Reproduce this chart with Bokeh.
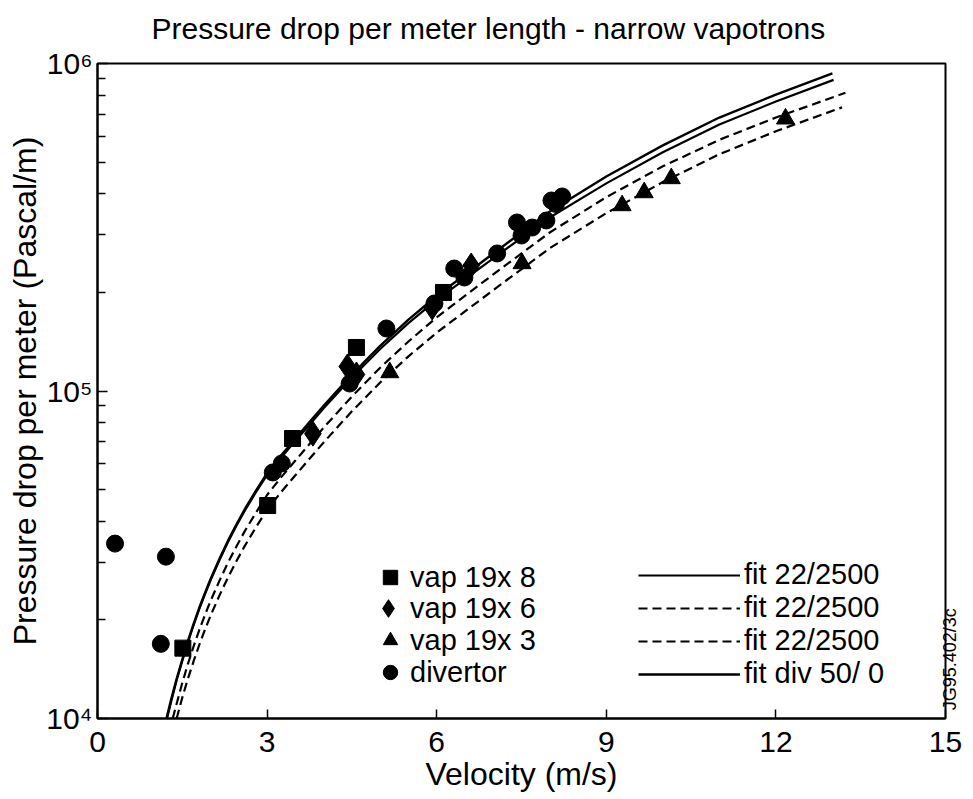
import math
from bokeh.plotting import figure
from bokeh.models import FixedTicker, Legend, LegendItem, LogAxis, Title
from bokeh.embed import file_html
from bokeh.resources import INLINE

# ---------------- data ----------------
sq_v = [1.51, 3.01, 3.45, 4.58, 6.12]
sq_p = [16400, 44700, 71600, 135800, 199900]

dia_v = [3.81, 4.42, 4.58, 5.92, 6.61]
dia_p = [74100, 118800, 112300, 179900, 241600]

tri_v = [5.17, 7.51, 9.28, 9.67, 10.15, 12.17]
tri_p = [113900, 245100, 368500, 403700, 445600, 677900]

div_v = [0.31, 1.21, 1.12, 3.10, 3.26, 4.46, 5.11, 5.96, 6.31, 6.49, 7.07,
         7.42, 7.50, 7.69, 7.94, 8.03, 8.22, 8.11]
div_p = [34200, 31200, 16900, 56400, 60100, 105400, 155200, 185000, 236600,
         222100, 263000, 327000, 298400, 315600, 331600, 381700, 392600, 372400]

# fit curves
fit_div_v = [1.22, 1.30, 1.40, 1.50, 1.60, 1.70, 1.80, 1.90, 2.00, 2.15, 2.30, 2.45,
             2.60, 2.80, 3.00, 3.25, 3.50, 3.75, 4.00, 4.50, 5.00, 5.50, 6.00, 7.00,
             8.00, 9.00, 10.0, 11.0, 12.0, 13.0]
fit_div_p = [10000, 11380, 13210, 15140, 17260, 19450, 21780, 24150, 26670, 30550,
             34670, 38900, 43400, 49550, 56170, 63680, 71530, 80350, 90160, 112200,
             137400, 165200, 195000, 263000, 353200, 451900, 562300, 683900,
             803500, 933300]

fit8_v = [1.23, 1.30, 1.40, 1.50, 1.60, 1.70, 1.80, 1.90, 2.00, 2.15, 2.30, 2.45,
          2.60, 2.80, 3.00, 3.25, 3.50, 3.75, 4.00, 4.50, 5.00, 5.50, 6.00, 7.00,
          8.00, 9.00, 10.0, 11.0, 12.0, 13.02]
fit8_p = [10000, 11220, 13090, 15000, 17100, 19280, 21580, 23930, 26420, 30270,
          34360, 38550, 42950, 48980, 55400, 62660, 70410, 78890, 88510, 109900,
          134300, 161100, 189700, 254100, 338800, 430500, 535800, 651600,
          765600, 891300]

fit6_v = [1.33, 1.40, 1.50, 1.60, 1.70, 1.80, 1.90, 2.00, 2.15, 2.30, 2.45, 2.60,
          2.80, 3.00, 3.25, 3.50, 3.75, 4.00, 4.50, 5.00, 5.50, 6.00, 7.00, 8.00,
          9.00, 10.0, 11.0, 12.0, 13.23]
fit6_p = [10000, 11090, 12850, 14690, 16600, 18620, 20700, 22860, 26180, 29720,
          33340, 37200, 42460, 48140, 54580, 61310, 68870, 77270, 96160, 117800,
          141600, 167900, 227000, 304800, 390800, 485300, 584800, 683900, 813800]

fit3_v = [1.40, 1.50, 1.60, 1.70, 1.80, 1.90, 2.00, 2.15, 2.30, 2.45, 2.60, 2.80,
          3.00, 3.25, 3.50, 3.75, 4.00, 4.50, 5.00, 5.50, 6.00, 7.00, 8.00, 9.00,
          10.0, 11.0, 12.0, 13.17]
fit3_p = [10000, 11590, 13240, 14960, 16790, 18660, 20610, 23600, 26790, 30060,
          33540, 38280, 43400, 49200, 55270, 62090, 69660, 86700, 106200, 127600,
          150700, 203200, 272900, 349100, 434500, 528400, 620900, 734500]

x_ticks = [0, 3, 6, 9, 12, 15]
y_ticks = [10000, 100000, 1000000]
y_tick_labels = {10000: "10\u2074", 100000: "10\u2075", 1000000: "10\u2076"}
y_minor = [k * 10000 for k in range(2, 10)] + [k * 100000 for k in range(2, 10)]
code_pos = 10600
code_text = "JG95.402/3c"

marker_labels = ["vap 19x 8", "vap 19x 6", "vap 19x 3", "divertor"]
fit_labels = ["fit 22/2500", "fit 22/2500", "fit 22/2500", "fit div 50/ 0"]

FONT = "Liberation Sans"

p = figure(width=973, height=799, x_range=(0, 15), y_range=(1e4, 1e6),
           y_axis_type="log", output_backend="svg", toolbar_location=None,
           min_border_left=97, min_border_right=26, min_border_top=63,
           min_border_bottom=81)

p.background_fill_color = "white"
p.border_fill_color = "white"
p.outline_line_color = "black"
p.outline_line_width = 2
p.xgrid.visible = False
p.ygrid.visible = False

# title (a thin spacer title sits between the frame and the real title)
p.title.text = ""
p.add_layout(Title(text=" ", text_font_size="2px", standoff=12), "above")
p.add_layout(Title(text="Pressure drop per meter length - narrow vapotrons",
                   text_font=FONT, text_font_size="30px", text_font_style="normal",
                   text_color="black", align="left", offset=54, standoff=6), "above")

# axes
for ax in (p.xaxis[0], p.yaxis[0]):
    ax.axis_line_width = 2
    ax.axis_line_color = "black"
    ax.major_tick_line_color = "black"
    ax.major_tick_line_width = 1.5
    ax.minor_tick_line_color = "black"
    ax.minor_tick_line_width = 1.5
    ax.major_tick_out = 0
    ax.minor_tick_out = 0
    ax.major_label_text_font = FONT
    ax.major_label_text_font_size = "30px"
    ax.major_label_text_color = "black"
    ax.axis_label_text_font = FONT
    ax.axis_label_text_font_size = "32px"
    ax.axis_label_text_font_style = "normal"
    ax.axis_label_text_color = "black"

p.xaxis.ticker = FixedTicker(ticks=x_ticks)
p.xaxis.major_tick_in = 9
p.xaxis.minor_tick_in = 0
p.xaxis.major_label_standoff = 13
p.xaxis.axis_label_standoff = 1
p.xaxis.axis_label = "Velocity (m/s)"

p.yaxis.ticker = FixedTicker(ticks=y_ticks, minor_ticks=y_minor)
p.yaxis.major_tick_in = 10
p.yaxis.minor_tick_in = 8
p.yaxis.axis_label_standoff = 0
p.yaxis.major_label_overrides = y_tick_labels
p.yaxis.axis_label = "Pressure drop per meter (Pascal/m)"

# drawing code on the right edge
code_axis = LogAxis(ticker=FixedTicker(ticks=[code_pos]),
                    major_label_overrides={code_pos: code_text},
                    major_label_orientation=math.pi / 2,
                    major_label_standoff=5,
                    major_tick_in=0, major_tick_out=0,
                    minor_tick_in=0, minor_tick_out=0,
                    major_label_text_font=FONT, major_label_text_font_size="18px",
                    major_label_text_color="black",
                    axis_line_color=None, major_tick_line_color=None,
                    minor_tick_line_color=None)
p.add_layout(code_axis, "right")

# fit curves
r_fit8 = p.line(fit8_v, fit8_p, line_color="black", line_width=2.2)
r_fit6 = p.line(fit6_v, fit6_p, line_color="black", line_width=2.2, line_dash="9 5")
r_fit3 = p.line(fit3_v, fit3_p, line_color="black", line_width=2.2, line_dash="9 5")
r_fitd = p.line(fit_div_v, fit_div_p, line_color="black", line_width=2.4)

# measured points
r_sq = p.scatter(sq_v, sq_p, marker="square", size=16, color="black")
r_dia = p.scatter(dia_v, dia_p, marker="diamond", size=25, color="black")
r_tri = p.scatter(tri_v, tri_p, marker="triangle", size=18, color="black")
r_div = p.scatter(div_v, div_p, marker="circle", size=17, color="black")

common = dict(padding=0, margin=0, border_line_color=None, background_fill_alpha=0,
              label_text_font=FONT, label_text_font_size="29px",
              label_text_color="black")

# marker key: one single-row legend per symbol (row centres ~577/608/640/672 px)
marker_rows = [(r_sq, 36, 2, 123), (r_dia, 44, 0, 88), (r_tri, 36, 2, 60), (r_div, 36, 2, 28)]
for (rend, gsize, stand, vy), lab in zip(marker_rows, marker_labels):
    leg = Legend(items=[LegendItem(label=lab, renderers=[rend])],
                 location=(313 - gsize - stand, vy), glyph_width=gsize, glyph_height=gsize,
                 label_height=gsize, label_standoff=stand, **common)
    p.add_layout(leg)

leg2 = Legend(items=[LegendItem(label=lab, renderers=[rend])
                     for lab, rend in zip(fit_labels, [r_fit8, r_fit6, r_fit3, r_fitd])],
              location=(541, 28), glyph_width=102, glyph_height=30, label_height=30,
              spacing=-1, label_standoff=4, **common)
p.add_layout(leg2)

open("out.html", "w").write(file_html(p, INLINE))
